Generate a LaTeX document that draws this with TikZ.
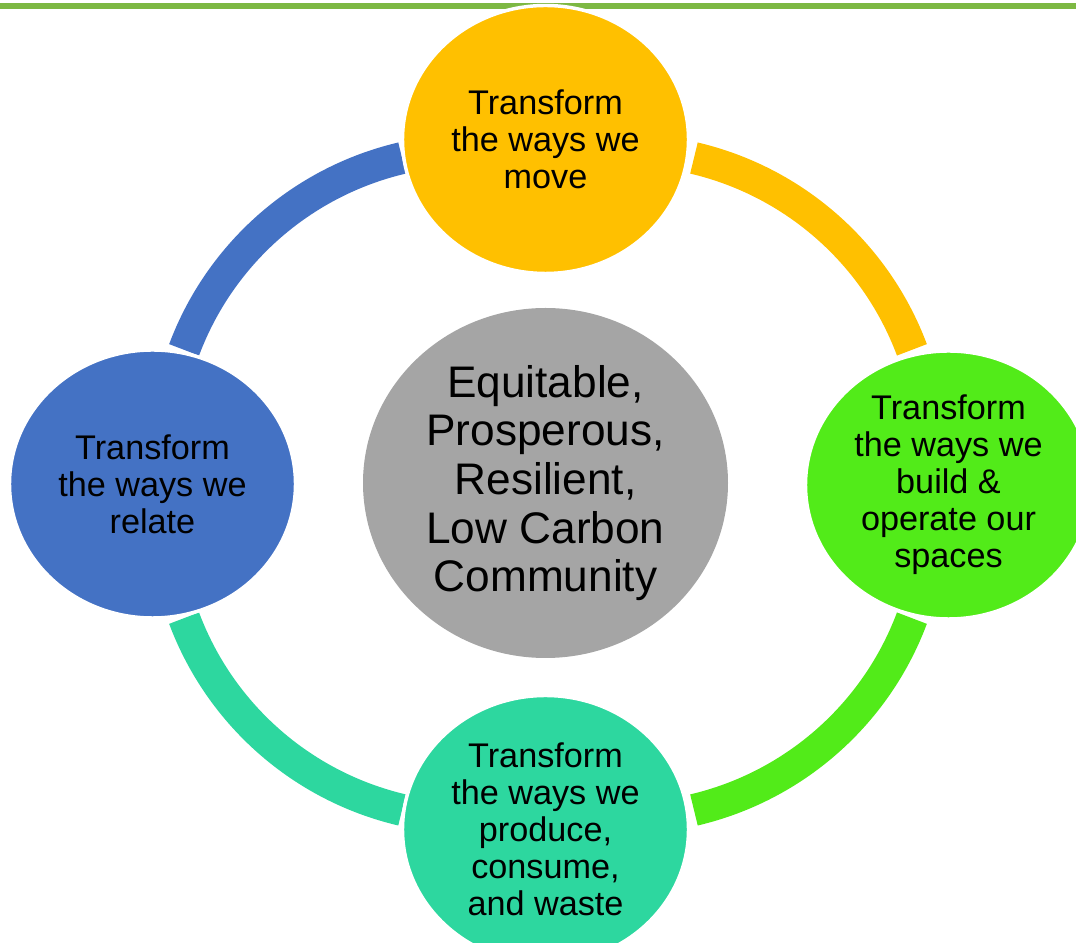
\documentclass[tikz,border=0pt]{standalone}
\usepackage{fontspec}
\setmainfont{Liberation Sans}
\usetikzlibrary{shapes.geometric}
\definecolor{cgold}{HTML}{FFC000}
\definecolor{cblue}{HTML}{4472C4}
\definecolor{cgreen}{HTML}{52EB19}
\definecolor{cteal}{HTML}{2DD79F}
\definecolor{cgray}{HTML}{A5A5A5}
\definecolor{cline}{HTML}{7DB843}
\begin{document}
\begin{tikzpicture}[x=0.75pt,y=0.75pt,
  sat/.style={ellipse, draw=white, line width=2.6pt, inner sep=0pt,
    minimum width=214.5pt, minimum height=201pt, align=center,
    font=\fontsize{25.65}{27.75}\selectfont},
  hubnode/.style={ellipse, fill=cgray, inner sep=0pt,
    minimum width=273.75pt, minimum height=262.5pt, align=center,
    font=\fontsize{33.15}{36.5}\selectfont},
  band/.style={line width=24pt}]
\useasboundingbox (0,0) rectangle (1076,943);
\coordinate (ruleL) at (0,937);
\coordinate (ruleR) at (1076,937);
\draw[cline, line width=4.5pt] (ruleL) -- (ruleR);
\coordinate (ring) at (548,459);
% ring segments
\draw[band, cblue]  ([shift={(-75.7,26.4)}]ring) ++(103.2:307.7) arc[start angle=103.2, end angle=159.5, radius=307.7];
\draw[band, cgold]  ([shift={(75.7,26.4)}]ring) ++(76.8:307.7) arc[start angle=76.8, end angle=20.5, radius=307.7];
\draw[band, cgreen] ([shift={(75.7,-26.4)}]ring) ++(-20.5:307.7) arc[start angle=-20.5, end angle=-76.8, radius=307.7];
\draw[band, cteal]  ([shift={(-75.7,-26.4)}]ring) ++(-159.5:307.7) arc[start angle=-159.5, end angle=-103.2, radius=307.7];
% nodes
\node[hubnode] (hub) at (545.5,460) {Equitable,\\Prosperous,\\Resilient,\\Low Carbon\\Community};
\node[sat, fill=cgold] (move) at (545.5,803.5) {Transform\\the ways we\\move};
\node[sat, fill=cgreen] (build) at (948.5,458) {Transform\\the ways we\\build \&\\operate our\\spaces};
\node[sat, fill=cteal] (produce) at (545.5,113.5) {Transform\\the ways we\\produce,\\consume,\\and waste};
\node[sat, fill=cblue] (relate) at (152.5,459) {Transform\\the ways we\\relate};
\end{tikzpicture}
\end{document}
